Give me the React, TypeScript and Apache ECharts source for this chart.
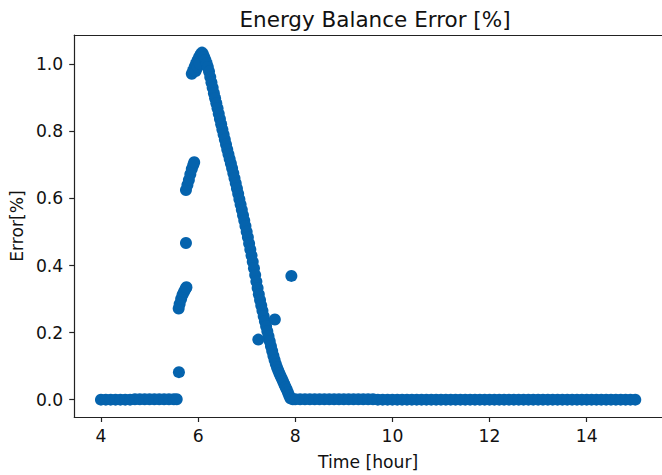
import React, { useEffect, useRef } from "react";
import * as echarts from "echarts";

// ---- data ----
const morningHours = [4.0, 4.1, 4.2, 4.3, 4.4, 4.5, 4.6, 4.7, 4.8, 4.9, 5.0, 5.1, 5.2, 5.3, 5.4, 5.5, 5.56];
const morningError = [0, 0, 0, 0, 0, 0, 0, 0.001, 0.001, 0.001, 0.001, 0.001, 0.001, 0.001, 0.001, 0.001, 0.001];

const riseHours = [5.605, 5.6, 5.62, 5.65, 5.68, 5.71, 5.74, 5.76, 5.75, 5.75, 5.78, 5.81, 5.84, 5.87, 5.9, 5.92,
  5.87, 5.9, 5.93, 5.96, 5.99, 6.02, 6.05, 6.08, 5.95, 5.99, 6.03];
const riseError = [0.082, 0.272, 0.285, 0.3, 0.313, 0.322, 0.33, 0.335, 0.467, 0.625, 0.64, 0.655, 0.672, 0.688, 0.7, 0.708,
  0.972, 0.982, 0.993, 1.003, 1.012, 1.021, 1.029, 1.035, 0.98, 0.992, 1.002];

const declineHours = [6.1, 6.125, 6.15, 6.175, 6.2, 6.225, 6.25, 6.275, 6.3, 6.325, 6.35, 6.375, 6.4, 6.425, 6.45, 6.475,
  6.5, 6.525, 6.55, 6.575, 6.6, 6.625, 6.65, 6.675, 6.7, 6.725, 6.75, 6.775, 6.8, 6.825, 6.85, 6.875,
  6.9, 6.925, 6.95, 6.975, 7.0, 7.025, 7.05, 7.075, 7.1, 7.125, 7.15, 7.175, 7.2, 7.225, 7.25, 7.275,
  7.3, 7.325, 7.35, 7.375, 7.4, 7.425, 7.45, 7.475, 7.5, 7.525, 7.55, 7.575, 7.6, 7.625, 7.65, 7.675,
  7.7, 7.725, 7.75, 7.775, 7.8, 7.825, 7.85, 7.875, 7.9];
const declineError = [1.03, 1.022, 1.013, 1.003, 0.992, 0.979, 0.962, 0.946, 0.93, 0.914, 0.899, 0.884, 0.869, 0.853, 0.837, 0.821,
  0.806, 0.791, 0.776, 0.761, 0.746, 0.732, 0.718, 0.704, 0.69, 0.675, 0.66, 0.645, 0.63, 0.614, 0.598, 0.582,
  0.566, 0.55, 0.534, 0.518, 0.501, 0.484, 0.466, 0.448, 0.43, 0.411, 0.392, 0.372, 0.352, 0.333, 0.314, 0.297,
  0.281, 0.265, 0.249, 0.234, 0.219, 0.204, 0.189, 0.174, 0.159, 0.145, 0.131, 0.118, 0.106, 0.096, 0.087, 0.078,
  0.07, 0.062, 0.054, 0.046, 0.038, 0.03, 0.021, 0.012, 0.004];

const outlierHours = [7.24, 7.58, 7.92];
const outlierError = [0.179, 0.239, 0.369];

const eveningHours = [7.95, 8.0, 8.1, 8.2, 8.3, 8.4, 8.5, 8.6, 8.7, 8.8, 8.9, 9.0, 9.1, 9.2, 9.3, 9.4, 9.5, 9.6,
  9.7, 9.8, 9.9, 10.0, 10.1, 10.2, 10.3, 10.4, 10.5, 10.6, 10.7, 10.8, 10.9, 11.0, 11.1, 11.2, 11.3, 11.4,
  11.5, 11.6, 11.7, 11.8, 11.9, 12.0, 12.1, 12.2, 12.3, 12.4, 12.5, 12.6, 12.7, 12.8, 12.9, 13.0, 13.1, 13.2,
  13.3, 13.4, 13.5, 13.6, 13.7, 13.8, 13.9, 14.0, 14.1, 14.2, 14.3, 14.4, 14.5, 14.6, 14.7, 14.8, 14.9, 15.0];
const eveningError = [0.001, 0.001, 0.001, 0.001, 0.001, 0.001, 0.001, 0.001, 0.001, 0.001, 0.001, 0.001, 0.001, 0.001, 0.001, 0.001, 0.001, 0.001,
  0, 0, 0, 0, 0, 0, 0, 0, 0, 0, 0, 0, 0, 0, 0, 0, 0, 0,
  0, 0, 0, 0, 0, 0, 0, 0, 0, 0, 0, 0, 0, 0, 0, 0, 0, 0,
  0, 0, 0, 0, 0, 0, 0, 0, 0, 0, 0, 0, 0, 0, 0, 0, 0, 0];

const xTicks = [4, 6, 8, 10, 12, 14];
const yTicks = [0, 0.2, 0.4, 0.6, 0.8, 1.0];

const titleText = "Energy Balance Error [%]";
const xName = "Time [hour]";
const yName = "Error[%]";

const FONT = "DejaVu Sans";
const BLUE = "#0563ad";
const INK = "#111";

function zip(xs: number[], ys: number[]) {
  return xs.map((x, i) => [x, ys[i]]);
}

export default function App() {
  const ref = useRef<HTMLDivElement>(null);
  useEffect(() => {
    if (!ref.current) return;
    const chart = echarts.init(ref.current, undefined, { renderer: "svg" });
    const points = [
      ...zip(morningHours, morningError),
      ...zip(riseHours, riseError),
      ...zip(declineHours, declineError),
      ...zip(outlierHours, outlierError),
      ...zip(eveningHours, eveningError),
    ];
    chart.setOption({
      animation: false,
      backgroundColor: "#fff",
      title: {
        text: titleText,
        left: 370,
        top: 3,
        textAlign: "center",
        textStyle: { fontFamily: FONT, fontSize: 21.5, fontWeight: "normal", color: INK },
      },
      grid: { left: 74, top: 35, width: 593, height: 382, containLabel: false },
      xAxis: [
        {
          type: "value",
          min: 3.45,
          max: 15.55,
          name: xName,
          nameLocation: "middle",
          nameGap: 36,
          nameTextStyle: { fontFamily: FONT, fontSize: 17.2, color: INK },
          axisLine: { show: true, onZero: false, lineStyle: { color: "#222", width: 1.2 } },
          axisTick: { show: true, inside: false, length: 5, customValues: xTicks, lineStyle: { color: "#222", width: 1.2 } },
          axisLabel: { customValues: xTicks, margin: 10, fontFamily: FONT, fontSize: 17.2, color: INK },
          splitLine: { show: false },
        },
        {
          type: "value",
          position: "top",
          min: 3.45,
          max: 15.55,
          axisLine: { show: true, onZero: false, lineStyle: { color: "#222", width: 1.2 } },
          axisTick: { show: false },
          axisLabel: { show: false },
          splitLine: { show: false },
        },
      ],
      yAxis: {
        type: "value",
        min: -0.0518,
        max: 1.0875,
        name: yName,
        nameLocation: "middle",
        nameGap: 49,
        nameTextStyle: { fontFamily: FONT, fontSize: 17.2, color: INK },
        axisLine: { show: true, onZero: false, lineStyle: { color: "#222", width: 1.2 } },
        axisTick: { show: true, inside: false, length: 5, customValues: yTicks, lineStyle: { color: "#222", width: 1.2 } },
        axisLabel: {
          customValues: yTicks,
          margin: 11,
          fontFamily: FONT,
          fontSize: 17.2,
          color: INK,
          formatter: (v: number) => v.toFixed(1),
        },
        splitLine: { show: false },
      },
      series: [
        {
          type: "scatter",
          xAxisIndex: 0,
          symbol: "circle",
          symbolSize: 12,
          itemStyle: { color: BLUE, opacity: 1 },
          data: points,
        },
      ],
    });
    return () => chart.dispose();
  }, []);
  return (
    <div
      ref={ref}
      style={{ position: "fixed", left: 0, top: 0, width: 662, height: 475, background: "#fff" }}
    />
  );
}
